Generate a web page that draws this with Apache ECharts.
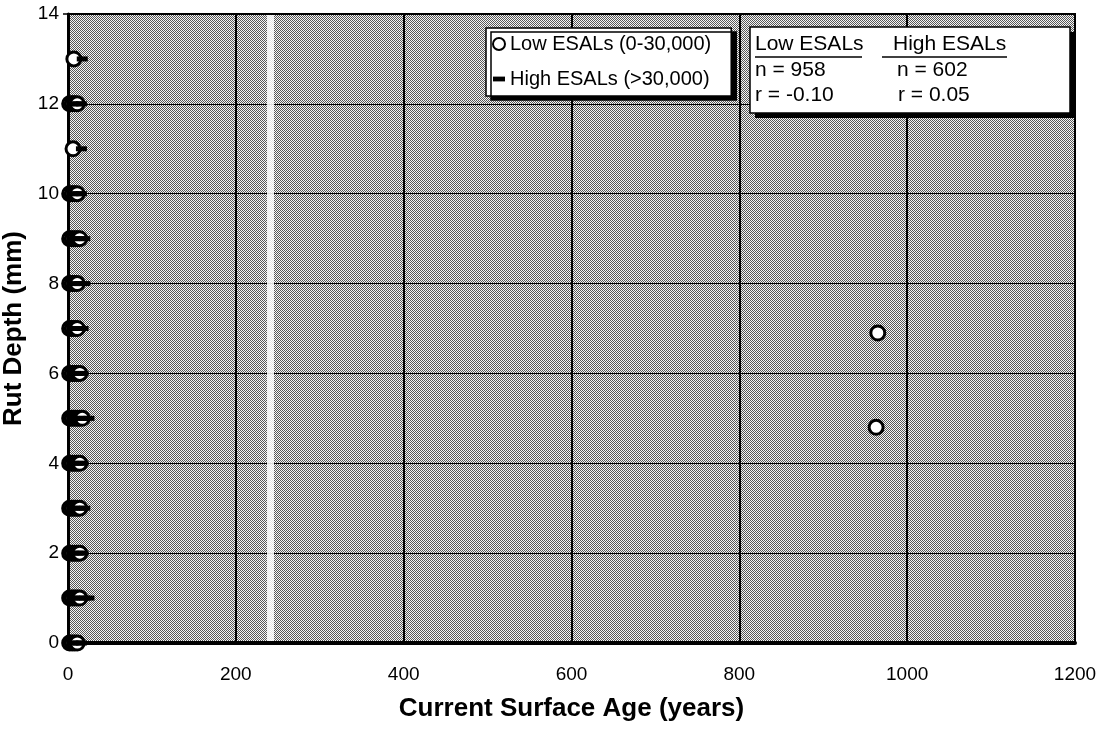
<!DOCTYPE html>
<html><head><meta charset="utf-8">
<script src="https://cdn.jsdelivr.net/npm/echarts@6/dist/echarts.min.js"></script>
<style>html,body{margin:0;padding:0;background:#fff}#c{width:1108px;height:730px}</style>
</head><body><div id="c"></div>
<script>
// ---- data ----
const xTickValues = [0, 200, 400, 600, 800, 1000, 1200];
const yTickValues = [0, 2, 4, 6, 8, 10, 12, 14];
const seriesNames = ['Low ESALs (0-30,000)', 'High ESALs (>30,000)'];
// Low ESALs (0-30,000): surface age (years), rut depth (mm)
const lowAge = [2,5,8,11, 2,5,8,11,14, 2,5,8,11,14, 2,5,8,11,14, 2,5,8,11,14, 2,5,8,11,14,17, 2,5,8,11,14, 2,5,8,11, 2,5,8,11, 2,5,8,11,14, 2,5,8,11, 6, 2,5,8,11, 7, 965, 963];
const lowRut = [0,0,0,0, 1,1,1,1,1, 2,2,2,2,2, 3,3,3,3,3, 4,4,4,4,4, 5,5,5,5,5,5, 6,6,6,6,6, 7,7,7,7, 8,8,8,8, 9,9,9,9,9, 10,10,10,10, 11, 12,12,12,12, 13, 6.9, 4.8];
// High ESALs (>30,000)
const highAge = [6,12,16, 8,14,20,25, 6,12,18, 8,14,20, 6,12,18, 8,14,20,25, 6,12,18, 6,12,18, 8,14,20, 8,14,20, 6,12,16, 16, 6,12,16, 17];
const highRut = [0,0,0, 1,1,1,1, 2,2,2, 3,3,3, 4,4,4, 5,5,5,5, 6,6,6, 7,7,7, 8,8,8, 9,9,9, 10,10,10, 11, 12,12,12, 13];
const statsHeader = ['Low ESALs', 'High ESALs'];
const statsN = ['n = 958', 'n = 602'];
const statsR = ['r = -0.10', 'r = 0.05'];

const FONT = "'Liberation Sans', Arial, sans-serif";
function makePattern() {
  const c = document.createElement('canvas');
  c.width = 4; c.height = 4;
  const g = c.getContext('2d');
  g.fillStyle = '#f6f6f6'; g.fillRect(0, 0, 4, 4);
  g.fillStyle = '#585858';
  for (let y = 0; y < 4; y++) for (let x = 0; x < 4; x++) if ((x + y) % 2 === 0) g.fillRect(x, y, 1, 1);
  return c;
}
const lowData = lowAge.map((a, i) => [a, lowRut[i]]);
const highData = highAge.map((a, i) => [a, highRut[i]]);
const dashPath = 'path://M0,0 L10,0 L10,4 L0,4 Z';

const chart = echarts.init(document.getElementById('c'), null, {renderer: 'canvas'});
chart.setOption({
  animation: false,
  backgroundColor: '#ffffff',
  textStyle: {fontFamily: FONT},
  grid: {
    left: 68, right: 33, top: 14, bottom: 87,
    outerBoundsMode: 'none', containLabel: false,
    show: true,
    backgroundColor: {image: makePattern(), repeat: 'repeat'},
    borderColor: '#000', borderWidth: 2
  },
  xAxis: {
    type: 'value', min: 0, max: 1200, interval: 200,
    name: 'Current Surface Age (years)', nameLocation: 'middle', nameGap: 53,
    nameTextStyle: {fontFamily: FONT, fontSize: 26, fontWeight: 'bold', color: '#000'},
    axisLine: {show: true, lineStyle: {color: '#000', width: 4}},
    axisTick: {show: false},
    axisLabel: {fontFamily: FONT, fontSize: 19, color: '#000', margin: 22,
      formatter: v => xTickValues.includes(v) ? String(v) : ''},
    splitLine: {show: true, lineStyle: {color: '#000', width: 2}}
  },
  yAxis: {
    type: 'value', min: 0, max: 14, interval: 2,
    name: 'Rut Depth (mm)', nameLocation: 'middle', nameGap: 35, nameRotate: 90,
    nameTextStyle: {fontFamily: FONT, fontSize: 26, fontWeight: 'bold', color: '#000'},
    axisLine: {show: true, lineStyle: {color: '#000', width: 3}},
    axisTick: {show: true, length: 5, lineStyle: {color: '#000', width: 1.5}},
    axisLabel: {fontFamily: FONT, fontSize: 19, color: '#000', margin: 9,
      formatter: v => yTickValues.includes(v) ? String(v) : ''},
    splitLine: {show: true, lineStyle: {color: '#000', width: 1.2}}
  },
  legend: {
    orient: 'vertical', left: 486, top: 28,
    itemWidth: 12, itemHeight: 12, itemGap: 15,
    padding: [6, 20, 7, 6],
    backgroundColor: '#fff', borderColor: '#000', borderWidth: 1.5,
    shadowColor: '#000', shadowOffsetX: 5, shadowOffsetY: 4, shadowBlur: 0,
    z: 6,
    textStyle: {fontFamily: FONT, fontSize: 20, color: '#000'},
    data: [
      {name: seriesNames[0], icon: 'circle'},
      {name: seriesNames[1], icon: dashPath}
    ]
  },
  graphic: [
    {type: 'rect', z: 1, silent: true, shape: {x: 267, y: 15, width: 7, height: 626},
      style: {fill: 'rgba(255,255,255,0.85)'}},
    {type: 'rect', z: 5, silent: true, shape: {x: 755, y: 32, width: 320, height: 86},
      style: {fill: '#000'}},
    {type: 'rect', z: 6, silent: true, shape: {x: 750, y: 27, width: 320, height: 86},
      style: {fill: '#fff', stroke: '#000', lineWidth: 1.5}},
    {type: 'text', z: 7, silent: true, x: 755, y: 44, style: {text: statsHeader[0], font: '21px ' + FONT, fill: '#000', verticalAlign: 'middle'}},
    {type: 'text', z: 7, silent: true, x: 893, y: 44, style: {text: statsHeader[1], font: '21px ' + FONT, fill: '#000', verticalAlign: 'middle'}},
    {type: 'line', z: 7, silent: true, shape: {x1: 755, y1: 57, x2: 862, y2: 57}, style: {stroke: '#000', lineWidth: 1.5}},
    {type: 'line', z: 7, silent: true, shape: {x1: 882, y1: 57, x2: 1007, y2: 57}, style: {stroke: '#000', lineWidth: 1.5}},
    {type: 'text', z: 7, silent: true, x: 755, y: 70, style: {text: statsN[0], font: '21px ' + FONT, fill: '#000', verticalAlign: 'middle'}},
    {type: 'text', z: 7, silent: true, x: 897, y: 70, style: {text: statsN[1], font: '21px ' + FONT, fill: '#000', verticalAlign: 'middle'}},
    {type: 'text', z: 7, silent: true, x: 755, y: 95, style: {text: statsR[0], font: '21px ' + FONT, fill: '#000', verticalAlign: 'middle'}},
    {type: 'text', z: 7, silent: true, x: 898, y: 95, style: {text: statsR[1], font: '21px ' + FONT, fill: '#000', verticalAlign: 'middle'}}
  ],
  series: [
    {
      name: seriesNames[0], type: 'scatter', data: lowData, z: 3,
      symbol: 'circle', symbolSize: 14,
      itemStyle: {color: '#fff', borderColor: '#000', borderWidth: 3, opacity: 1}
    },
    {
      name: seriesNames[1], type: 'scatter', data: highData, z: 4,
      symbol: dashPath, symbolSize: [11, 5],
      itemStyle: {color: '#000', opacity: 1}
    }
  ]
});
</script>
</body></html>
